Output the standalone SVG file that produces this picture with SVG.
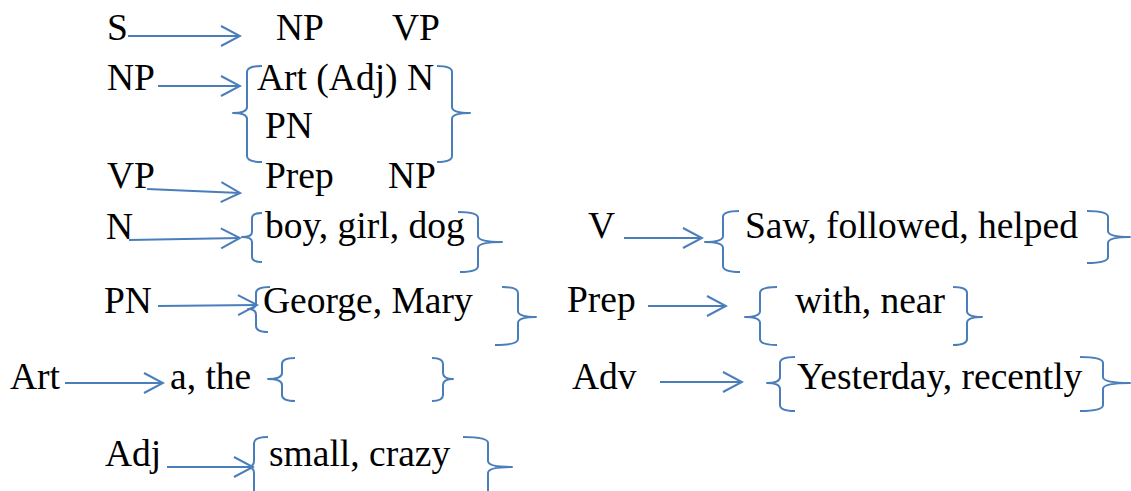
<svg xmlns="http://www.w3.org/2000/svg" width="1131" height="491" viewBox="0 0 1131 491">
  <style>
    .t { font-family: 'Liberation Serif', 'Times New Roman', serif; font-size: 37.5px; fill: #000; }
    .br { fill: none; stroke: #4A7EBB; stroke-width: 2; stroke-linejoin: round; }
    .ar { fill: none; stroke: #4A7EBB; stroke-width: 2; }
  </style>
  <defs>
    <marker id="open" viewBox="-22 -12 24 24" refX="0" refY="0" markerWidth="24" markerHeight="24" markerUnits="userSpaceOnUse" orient="auto">
      <path d="M-19,-10 L0,0 L-19,10" fill="none" stroke="#4A7EBB" stroke-width="2"/>
    </marker>
  </defs>
  <rect width="1131" height="491" fill="#fff"/>

  <!-- rewrite arrows -->
  <g id="connectors" class="ar" marker-end="url(#open)">
    <line x1="128" y1="36" x2="240" y2="36"/>
    <line x1="158" y1="86" x2="240" y2="86"/>
    <line x1="147" y1="189" x2="240" y2="193"/>
    <line x1="129" y1="240" x2="240" y2="238"/>
    <line x1="158" y1="306" x2="257" y2="305"/>
    <line x1="65" y1="383" x2="163" y2="383"/>
    <line x1="167" y1="467" x2="253" y2="467"/>
    <line x1="624" y1="238" x2="702" y2="238"/>
    <line x1="648" y1="306" x2="726" y2="306"/>
    <line x1="660" y1="382" x2="742" y2="382"/>
  </g>

  <!-- S -> NP VP -->
  <g id="rule-s">
    <text class="t" x="107" y="40">S</text>
    <text class="t" x="276" y="40">NP</text>
    <text class="t" x="392" y="40">VP</text>
  </g>

  <!-- NP -> {Art (Adj) N | PN} -->
  <g id="rule-np">
    <text class="t" x="107" y="90">NP</text>
    <path class="br" d="M262,66 Q247,66 247,72 L247,107 Q247,113 233,113 Q247,113 247,119 L247,156 Q247,162 262,162"/>
    <text class="t" x="257" y="90">Art (Adj) N</text>
    <text class="t" x="265" y="138">PN</text>
    <path class="br" d="M437,66 Q452,66 452,72 L452,107 Q452,113 470,113 Q452,113 452,119 L452,156 Q452,162 437,162"/>
  </g>

  <!-- VP -> Prep NP -->
  <g id="rule-vp">
    <text class="t" x="107" y="188">VP</text>
    <text class="t" x="265" y="188">Prep</text>
    <text class="t" x="388" y="188">NP</text>
  </g>

  <!-- N -->
  <g id="rule-n">
    <text class="t" x="106" y="239">N</text>
    <path class="br" d="M262,213 Q252,213 252,218 L252,232 Q252,237 242,237 Q252,237 252,242 L252,257 Q252,262 262,262"/>
    <text class="t" x="265" y="238">boy, girl, dog</text>
    <path class="br" d="M458,212 Q478,212 478,218 L478,236 Q478,242 502,242 Q478,242 478,248 L478,266 Q478,272 460,272"/>
  </g>

  <!-- PN -->
  <g id="rule-pn">
    <text class="t" x="104" y="313">PN</text>
    <path class="br" d="M270,287 Q256,287 256,293 L256,303 Q256,309 248,309 Q256,309 256,315 L256,326 Q256,332 268,332"/>
    <text class="t" x="263" y="313">George, Mary</text>
    <path class="br" d="M502,287 Q518,287 518,293 L518,311 Q518,317 536,317 Q518,317 518,323 L518,339 Q518,345 495,345"/>
  </g>

  <!-- Art -->
  <g id="rule-art">
    <text class="t" x="10" y="389">Art</text>
    <text class="t" x="170" y="389">a, the</text>
    <path class="br" d="M295,358 Q282,358 282,364 L282,373 Q282,379 268,379 Q282,379 282,385 L282,395 Q282,401 295,401"/>
    <path class="br" d="M432,358 Q443,358 443,364 L443,373 Q443,379 453,379 Q443,379 443,385 L443,395 Q443,401 432,401"/>
  </g>

  <!-- Adj -->
  <g id="rule-adj">
    <text class="t" x="105" y="466">Adj</text>
    <path class="br" d="M268,437 Q254,437 254,443 L254,461 Q254,467 247,467 Q254,467 254,473 L254,496"/>
    <text class="t" x="269" y="466">small, crazy</text>
    <path class="br" d="M463,437 Q488,437 488,443 L488,461 Q488,467 512,467 Q488,467 488,473 L488,496"/>
  </g>

  <!-- V -->
  <g id="rule-v">
    <text class="t" x="588" y="238">V</text>
    <path class="br" d="M739,211 Q723,211 723,217 L723,236 Q723,242 705,242 Q723,242 723,248 L723,266 Q723,272 740,272"/>
    <text class="t" x="745" y="238">Saw, followed, helped</text>
    <path class="br" d="M1087,211 Q1108,211 1108,217 L1108,231 Q1108,237 1130,237 Q1108,237 1108,243 L1108,257 Q1108,263 1087,263"/>
  </g>

  <!-- Prep -->
  <g id="rule-prep">
    <text class="t" x="567" y="312">Prep</text>
    <path class="br" d="M777,287 Q760,287 760,293 L760,311 Q760,317 745,317 Q760,317 760,323 L760,339 Q760,345 777,345"/>
    <text class="t" x="795" y="313">with, near</text>
    <path class="br" d="M953,287 Q967,287 967,293 L967,311 Q967,317 982,317 Q967,317 967,323 L967,339 Q967,345 953,345"/>
  </g>

  <!-- Adv -->
  <g id="rule-adv">
    <text class="t" x="572" y="389">Adv</text>
    <path class="br" d="M795,357 Q780,357 780,363 L780,377 Q780,383 767,383 Q780,383 780,389 L780,405 Q780,411 795,411"/>
    <text class="t" x="797" y="389">Yesterday, recently</text>
    <path class="br" d="M1080,357 Q1103,357 1103,363 L1103,377 Q1103,383 1130,383 Q1103,383 1103,389 L1103,405 Q1103,411 1080,411"/>
  </g>
</svg>
